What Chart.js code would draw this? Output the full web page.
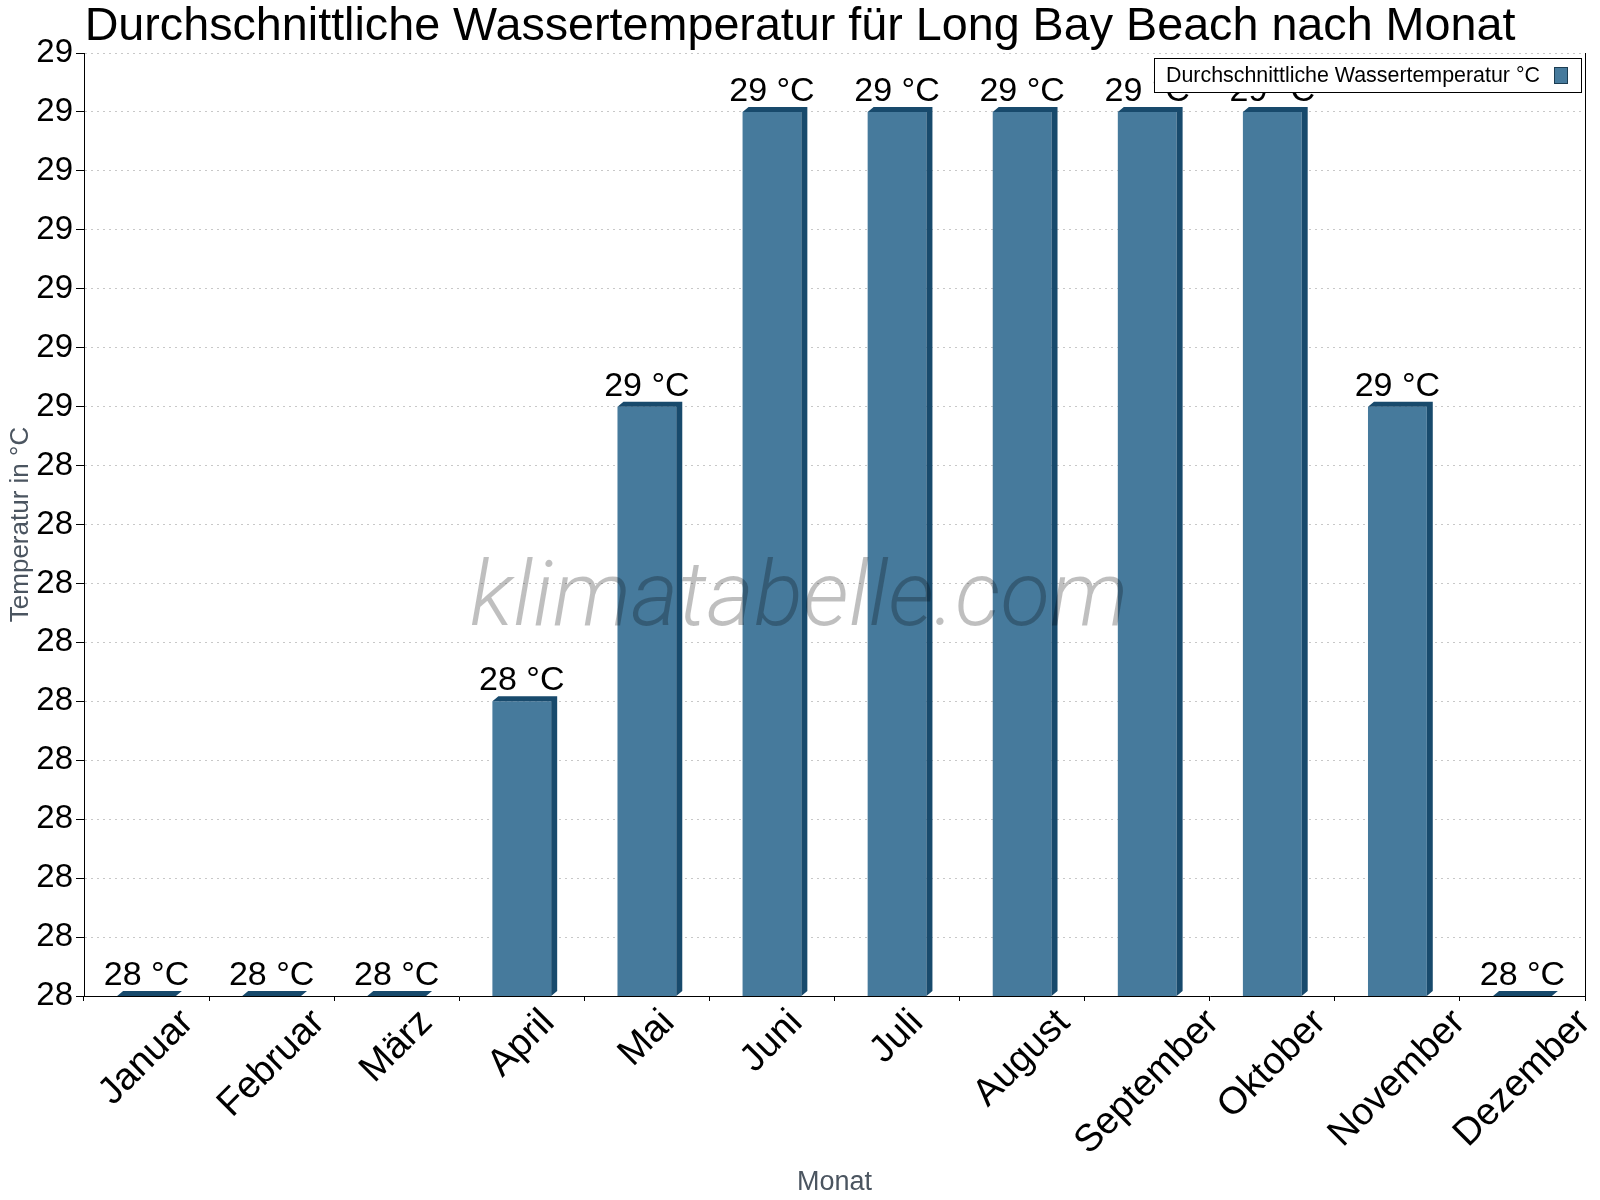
<!DOCTYPE html>
<html>
<head>
<meta charset="utf-8">
<script src="https://cdn.jsdelivr.net/npm/chart.js@4.4.0/dist/chart.umd.min.js"></script>
<style>
  html, body { margin: 0; padding: 0; background: #fff; }
  #wrap { width: 1600px; height: 1200px; }
</style>
</head>
<body>
<div id="wrap"><canvas id="myChart" width="1600" height="1200"></canvas></div>
<script>
const months = ['Januar', 'Februar', 'März', 'April', 'Mai', 'Juni', 'Juli', 'August', 'September', 'Oktober', 'November', 'Dezember'];
const waterTemp = [28.0, 28.0, 28.0, 28.25, 28.5, 28.75, 28.75, 28.75, 28.75, 28.75, 28.5, 28.0];
const seriesLabel = 'Durchschnittliche Wassertemperatur °C';
const yMin = 28.0;
const yMax = 28.8;
const yStep = 0.05;

const FRONT = '#467a9c';
const DARK = '#184a6c';
const FONT = "'Liberation Sans', Arial, sans-serif";

// fake 3d: dark top and right side for each bar
const bar3d = {
  id: 'bar3d',
  afterDatasetsDraw(chart) {
    const ctx = chart.ctx;
    const dx = 6, dy = 5;
    const B = chart.chartArea.bottom;
    chart.getDatasetMeta(0).data.forEach((bar) => {
      const L = bar.x - bar.width / 2, R = bar.x + bar.width / 2;
      const T = bar.y;
      ctx.save();
      ctx.fillStyle = DARK;
      ctx.beginPath();
      ctx.moveTo(L, T);
      ctx.lineTo(L + dx, T - dy);
      ctx.lineTo(R + dx, T - dy);
      ctx.lineTo(R + dx, B - dy);
      ctx.lineTo(R, B);
      ctx.lineTo(R, T);
      ctx.closePath();
      ctx.fill();
      ctx.restore();
    });
  }
};

const extras = {
  id: 'extras',
  afterDatasetsDraw(chart) {
    const ctx = chart.ctx;
    // watermark
    ctx.save();
    ctx.font = "italic 300 91px Roboto";
    ctx.fillStyle = 'rgba(0,0,0,0.25)';
    ctx.textAlign = 'center';
    ctx.textBaseline = 'middle';
    ctx.fillText('klimatabelle.com', 799, 602);
    ctx.restore();
  },
  afterDraw(chart) {
    const ctx = chart.ctx;
    const a = chart.chartArea;
    ctx.save();

    // value labels
    ctx.font = '34px ' + FONT;
    ctx.fillStyle = '#000';
    ctx.textAlign = 'center';
    ctx.textBaseline = 'alphabetic';
    chart.getDatasetMeta(0).data.forEach((bar, i) => {
      ctx.fillText(Math.round(waterTemp[i]) + ' °C', bar.x, bar.y - 11);
    });

    // month labels, rotated around their centre
    const xs = chart.scales.x;
    const fs = 38;
    ctx.font = fs + 'px ' + FONT;
    ctx.textAlign = 'center';
    ctx.textBaseline = 'middle';
    months.forEach((m, i) => {
      const x = xs.getPixelForTick(i);
      const w = ctx.measureText(m).width;
      const half = (w + fs * 0.8) / (2 * Math.SQRT2);
      ctx.save();
      ctx.translate(x, xs.top + 10 + half);
      ctx.rotate(-Math.PI / 4);
      ctx.fillText(m, 0, 0);
      ctx.restore();
    });

    // legend box
    const bx = a.right - 431, by = a.top + 5, bw = 427, bh = 34;
    ctx.fillStyle = '#fff';
    ctx.fillRect(bx, by, bw, bh);
    ctx.strokeStyle = '#000';
    ctx.lineWidth = 1;
    ctx.strokeRect(bx + 0.5, by + 0.5, bw, bh);
    ctx.font = '21.4px ' + FONT;
    ctx.fillStyle = '#000';
    ctx.textAlign = 'left';
    ctx.textBaseline = 'middle';
    ctx.fillText(seriesLabel, bx + 12, by + bh / 2 + 1);
    ctx.fillStyle = FRONT;
    ctx.fillRect(bx + 400, by + 9, 13, 16);
    ctx.strokeStyle = '#1c3d52';
    ctx.strokeRect(bx + 400.5, by + 9.5, 13, 16);
    ctx.restore();
  }
};

const config = {
  type: 'bar',
  data: {
    labels: months,
    datasets: [{
      label: seriesLabel,
      data: waterTemp,
      backgroundColor: FRONT,
      borderWidth: 0,
      barPercentage: 0.47,
      categoryPercentage: 1.0
    }]
  },
  options: {
    responsive: false,
    animation: false,
    layout: { padding: 0 },
    plugins: {
      legend: { display: false },
      tooltip: { enabled: false },
      title: {
        display: true,
        text: 'Durchschnittliche Wassertemperatur für Long Bay Beach nach Monat',
        color: '#000',
        font: { family: FONT, size: 46.7, weight: 'normal', lineHeight: 1.0 },
        padding: { top: 4, bottom: 2.3 }
      }
    },
    scales: {
      x: {
        afterFit: (scale) => { scale.height = 204; },
        grid: {
          drawOnChartArea: false,
          drawTicks: true,
          tickLength: 5,
          tickColor: '#000',
          offset: true
        },
        border: { color: '#000', width: 1 },
        ticks: {
          color: 'rgba(0,0,0,0)',
          font: { family: FONT, size: 35 },
          maxRotation: 45,
          minRotation: 45,
          padding: 0
        },
        title: {
          display: true,
          text: 'Monat',
          color: '#4b5560',
          font: { family: FONT, size: 27 },
          padding: { top: 0, bottom: 1 }
        }
      },
      y: {
        min: yMin,
        max: yMax,
        afterFit: (scale) => { scale.width = 84; },
        grid: {
          color: '#c8c8c8',
          borderDash: [2, 4],
          tickColor: '#000',
          tickBorderDash: [],
          tickLength: 8
        },
        border: { color: '#000', width: 1, dash: [2, 4] },
        ticks: {
          stepSize: yStep,
          color: '#000',
          font: { family: FONT, size: 33 },
          padding: 3,
          callback: (v) => Math.round(v)
        },
        title: {
          display: true,
          text: 'Temperatur in °C',
          color: '#4b5560',
          font: { family: FONT, size: 26 },
          padding: { top: 5, bottom: 0 }
        }
      },
      // empty right axis: gives the frame line on the right
      yRight: {
        type: 'linear',
        position: 'right',
        min: yMin,
        max: yMax,
        afterFit: (scale) => { scale.width = 15; },
        grid: { drawOnChartArea: false, drawTicks: false },
        border: { color: '#000', width: 1 },
        ticks: { display: false }
      }
    }
  },
  plugins: [bar3d, extras]
};

const myChart = new Chart(document.getElementById('myChart'), config);
</script>
</body>
</html>
